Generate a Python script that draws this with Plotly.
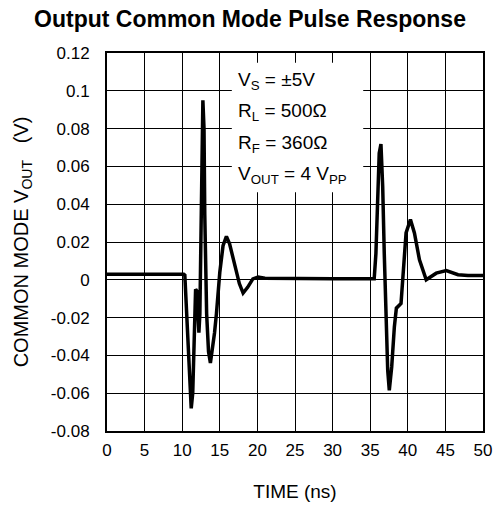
import plotly.graph_objects as go

# Time (ns) and common-mode output voltage (V)
time_ns = [0, 10.2, 10.35, 10.7, 11.0, 11.2, 11.4, 11.6, 11.78, 11.95, 12.1, 12.22, 12.35,
           12.55, 12.75, 12.9, 13.0, 13.25, 13.5, 13.75, 14.0, 14.3, 14.55, 15.0, 15.43,
           15.88, 16.3, 17.0, 17.6, 18.1, 18.7, 19.4, 20.1, 21.0, 25.0, 30.0, 35.0,
           35.53, 35.76, 35.99, 36.2, 36.43, 36.66, 36.87, 37.1, 37.33, 37.54, 37.86,
           38.21, 38.48, 39.1, 39.47, 39.77, 40.35, 40.88, 41.55, 42.45, 43.78, 45.12,
           46.68, 48.0, 50.0]
vout_v = [0.003, 0.003, 0.0025, -0.03, -0.058, -0.068, -0.06, -0.03, -0.005, -0.006, -0.02,
          -0.028, -0.018, 0.04, 0.095, 0.08, 0.035, -0.018, -0.038, -0.044, -0.038, -0.028,
          -0.018, 0.004, 0.018, 0.023, 0.019, 0.008, -0.002, -0.007, -0.004, 0.0005,
          0.0015, 0.0008, 0.0005, 0.0005, 0.0005,
          0.0005, 0.014, 0.041, 0.067, 0.0718, 0.0496, 0.014, -0.021, -0.048, -0.0585,
          -0.046, -0.025, -0.015, -0.0125, 0.009, 0.0248, 0.0319, 0.0248, 0.0106, 0.0,
          0.0035, 0.0049, 0.0027, 0.0023, 0.0023]

x_tick_vals = [0, 5, 10, 15, 20, 25, 30, 35, 40, 45, 50]
y_tick_vals = [-0.08, -0.06, -0.04, -0.02, 0, 0.02, 0.04, 0.06, 0.08, 0.1, 0.12]
y_tick_text = ["-0.08", "-0.06", "-0.04", "-0.02", "0", "0.02", "0.04", "0.06", "0.08", "0.1", "0.12"]

legend_lines = ["V<sub>S</sub> = ±5V", "R<sub>L</sub> = 500Ω", "R<sub>F</sub> = 360Ω",
                "V<sub>OUT</sub> = 4 V<sub>PP</sub>"]
legend_y = [0.1052, 0.0887, 0.0720, 0.0555]

FONT = "Liberation Sans, Arial, Helvetica, sans-serif"

fig = go.Figure()
fig.add_trace(go.Scatter(x=time_ns, y=vout_v, mode="lines",
                         line=dict(color="black", width=3.5), showlegend=False,
                         hoverinfo="skip"))

fig.add_shape(type="rect", xref="x", yref="y", x0=16.6, x1=34.07, y0=0.0463, y1=0.1149,
              fillcolor="white", line=dict(width=0), layer="between")

for txt, yy in zip(legend_lines, legend_y):
    fig.add_annotation(x=17.2, y=yy, xref="x", yref="y", text=txt, showarrow=False,
                       xanchor="left", yanchor="middle",
                       font=dict(family=FONT, size=19, color="black"))

fig.update_layout(
    width=500, height=507,
    margin=dict(l=107, r=17, t=53, b=76, autoexpand=False),
    paper_bgcolor="white", plot_bgcolor="white",
    font=dict(family=FONT, color="black"),
    title=dict(text="Output Common Mode Pulse Response", x=0.5, xanchor="center",
               y=1 - 19 / 507, yanchor="middle", yref="container",
               font=dict(family=FONT, size=23, color="black", weight="bold")),
)
fig.update_xaxes(range=[0, 50], tickvals=x_tick_vals, ticks="", ticklabelstandoff=3,
                 automargin=False,
                 showgrid=True, gridcolor="black", gridwidth=1, zeroline=False,
                 showline=True, linecolor="black", linewidth=2, mirror=True,
                 tickfont=dict(size=17, family=FONT, color="black"),
                 title=dict(text="TIME (ns)", font=dict(size=19, family=FONT, color="black"),
                            standoff=25))
fig.update_yaxes(range=[-0.08, 0.12], tickvals=y_tick_vals, ticktext=y_tick_text, ticks="",
                 ticklabelstandoff=12, automargin=False,
                 showgrid=True, gridcolor="black", gridwidth=1, zeroline=False,
                 showline=True, linecolor="black", linewidth=2, mirror=True,
                 tickfont=dict(size=17, family=FONT, color="black"),
                 title=dict(text="COMMON MODE V<sub>OUT</sub>\u00a0\u00a0\u00a0(V)",
                            font=dict(size=20, family=FONT, color="black"), standoff=17))

fig.write_html("out.html", config={"displayModeBar": False},
               post_script="document.body.style.margin='0';")
